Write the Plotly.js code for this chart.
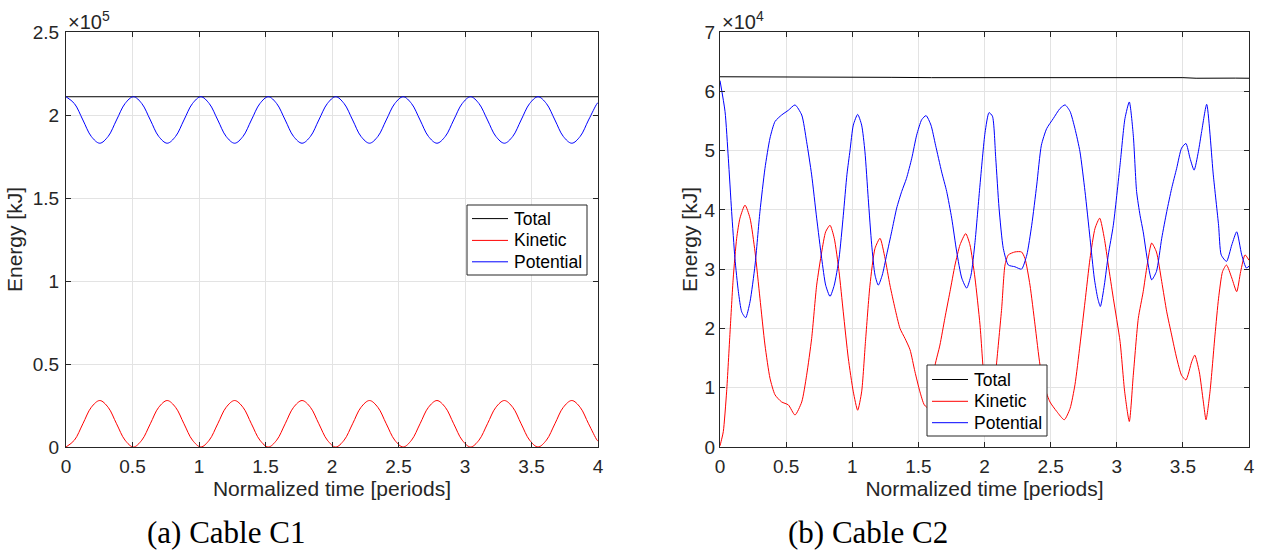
<!DOCTYPE html>
<html>
<head>
<meta charset="utf-8">
<script src="https://cdn.plot.ly/plotly-3.0.1.min.js"></script>
<style>
  html, body { margin: 0; padding: 0; background: #ffffff; }
  #chart { width: 1261px; height: 551px; }
</style>
</head>
<body>
<div id="chart"></div>
<script>
// ---------------- DATA ----------------
// (a) Cable C1 — energies in kJ, time in periods
const c1Time = [0,0.063,0.127,0.190,0.254,0.317,0.380,0.444,
  0.507,0.570,0.634,0.697,0.761,0.824,0.887,0.951,
  1.014,1.077,1.141,1.204,1.268,1.331,1.394,1.458,
  1.521,1.584,1.648,1.711,1.775,1.838,1.901,1.965,
  2.028,2.091,2.155,2.218,2.282,2.345,2.408,2.472,
  2.535,2.598,2.662,2.725,2.789,2.852,2.915,2.979,
  3.042,3.105,3.169,3.232,3.296,3.359,3.422,3.486,
  3.549,3.612,3.676,3.739,3.803,3.866,3.929,3.993,4.0];
const c1Kinetic = [0,4100,14000,23900,28000,23900,14000,4100,
  0,4100,14000,23900,28000,23900,14000,4100,
  0,4100,14000,23900,28000,23900,14000,4100,
  0,4100,14000,23900,28000,23900,14000,4100,
  0,4100,14000,23900,28000,23900,14000,4100,
  0,4100,14000,23900,28000,23900,14000,4100,
  0,4100,14000,23900,28000,23900,14000,4100,
  0,4100,14000,23900,28000,23900,14000,4100,3600];
const c1Potential = [211000,206900,197000,187100,183000,187100,197000,206900,
  211000,206900,197000,187100,183000,187100,197000,206900,
  211000,206900,197000,187100,183000,187100,197000,206900,
  211000,206900,197000,187100,183000,187100,197000,206900,
  211000,206900,197000,187100,183000,187100,197000,206900,
  211000,206900,197000,187100,183000,187100,197000,206900,
  211000,206900,197000,187100,183000,187100,197000,206900,
  211000,206900,197000,187100,183000,187100,197000,206900,207400];
const c1TotalTime = [0, 4];
const c1Total = [211000, 211000];

// (b) Cable C2
const c2PotTime = [0,0.038,0.063,0.088,0.113,0.139,0.164,0.194,0.227,0.265,0.302,0.340,0.378,0.416,0.466,0.517,0.567,0.618,0.655,0.693,0.731,0.769,0.799,0.832,0.864,0.900,0.932,0.960,0.983,
  1.008,1.041,1.071,1.096,1.121,1.147,1.172,1.197,1.227,1.260,1.298,1.336,1.374,1.410,1.450,1.487,1.525,1.558,1.595,1.630,1.676,1.714,1.752,1.790,1.828,1.865,1.898,1.928,1.966,
  2.004,2.034,2.060,2.085,2.110,2.142,2.180,2.230,2.280,2.320,2.357,2.395,2.430,2.470,2.520,2.571,2.609,2.647,2.684,2.722,2.760,2.798,2.830,2.856,2.876,2.906,2.936,2.974,
  3.025,3.062,3.095,3.125,3.150,3.176,3.200,3.230,3.264,3.300,3.340,3.378,3.415,3.453,3.490,3.523,3.554,3.585,3.617,3.642,3.680,3.730,3.770,3.790,3.830,3.870,3.907,3.945,3.980,4.000];
const c2Potential = [61800,56600,48700,39700,31800,26200,22800,21800,24500,30700,39700,47000,52100,54900,56000,56800,57700,56000,51500,45900,38600,31800,27300,25400,27300,31800,39000,46000,50000,
  54300,56100,54300,49800,41900,34100,29000,27300,29000,32400,36300,40300,43100,45300,48700,52600,55200,55900,54300,50900,46400,43100,38600,32900,28500,26800,29000,34500,44200,
  53000,56400,55800,48700,40300,33500,30700,30400,30000,32400,37400,44200,50900,53700,55400,57100,57700,56600,53700,49800,43100,35200,28500,25100,23700,27300,32400,37400,
  47600,55400,58200,52600,43100,39100,36300,31800,28200,29600,35200,39700,43600,47000,50400,51200,48700,46700,49800,53200,57800,45900,37400,32400,31300,34100,36300,32400,30200,30500];
const c2KinTime = [0,0.008,0.025,0.050,0.076,0.100,0.126,0.151,0.189,0.227,0.265,0.302,0.340,0.378,0.416,0.466,0.517,0.567,0.618,0.655,0.693,0.731,0.769,0.799,0.832,0.864,0.900,0.932,0.970,
  1.008,1.041,1.071,1.100,1.134,1.172,1.210,1.248,1.285,1.323,1.361,1.399,1.437,1.474,1.512,1.545,1.580,1.626,1.663,1.700,1.739,1.777,1.815,1.858,1.890,1.928,1.966,
  2.004,2.034,2.060,2.090,2.130,2.155,2.180,2.230,2.280,2.306,2.344,2.382,2.420,2.457,2.495,2.546,2.603,2.647,2.684,2.722,2.760,2.798,2.836,2.871,2.906,2.936,2.974,
  3.025,3.060,3.095,3.125,3.163,3.200,3.230,3.264,3.300,3.340,3.378,3.415,3.453,3.490,3.523,3.567,3.590,3.624,3.655,3.675,3.705,3.743,3.770,3.800,3.830,3.870,3.907,3.937,3.970,4.000];
const c2Kinetic = [200,900,2600,9300,19400,28500,35200,38600,40800,38600,32900,25100,17200,11600,8800,7600,7100,5400,7600,12100,18300,27300,32900,36300,37400,35200,29600,22800,15000,
  9300,6200,9300,17800,27300,33500,35200,31800,27300,23400,20000,18300,16400,12700,9300,7100,6500,13800,17200,21700,26200,30700,34100,36000,34100,28500,20600,
  9400,6000,6600,13800,23400,30700,32400,32900,32900,31800,27300,20600,13800,9900,7600,6000,4600,6500,10500,17200,24500,31800,36900,38600,35200,30700,25100,
  17800,9300,4300,12100,21700,26200,30700,34400,32900,27900,22800,18900,15000,12100,11300,14400,15500,12700,7600,4600,9300,18900,25100,29600,30700,28500,26200,29600,32400,31500];
const c2TotTime = [0,0.4,0.75,1.0,1.3,1.6,2.0,2.3,2.6,2.9,3.1,3.3,3.5,3.6,3.75,3.9,4.0];
const c2Total = [62450,62450,62400,62350,62350,62300,62300,62330,62330,62300,62250,62280,62300,62200,62250,62220,62200];

// Tick labels (values shown in units of the axis exponent)
const xTicks = [0,0.5,1,1.5,2,2.5,3,3.5,4];
const xTickText = ['0','0.5','1','1.5','2','2.5','3','3.5','4'];
const y1Ticks = [0,50000,100000,150000,200000,250000];
const y1TickText = ['0','0.5','1','1.5','2','2.5'];
const y2Ticks = [0,10000,20000,30000,40000,50000,60000,70000];
const y2TickText = ['0','1','2','3','4','5','6','7'];
const seriesNames = ['Total','Kinetic','Potential'];
const captions = ['(a) Cable C1','(b) Cable C2'];
const exponents = ['×10<sup>5</sup>','×10<sup>4</sup>'];

// ---------------- STYLE ----------------
const W = 1261, H = 551;
const fx = v => v / W;
const fy = v => 1 - v / H;
const SANS = 'Liberation Sans, Arial, Helvetica, sans-serif';
const SERIF = 'Liberation Serif, Times New Roman, serif';
const AX = '#262626';
const colors = {Total: '#000000', Kinetic: '#ff0000', Potential: '#0000ff'};

function line(x, y, name, xa, ya, shape, smooth) {
  return {x: x, y: y, name: name, type: 'scatter', mode: 'lines',
    xaxis: xa, yaxis: ya, showlegend: false,
    line: {color: colors[name], width: 1, shape: shape, smoothing: smooth},
    hoverinfo: 'skip'};
}

const traces = [
  line(c1TotalTime, c1Total, seriesNames[0], 'x', 'y', 'linear', 0),
  line(c1Time, c1Kinetic, seriesNames[1], 'x', 'y', 'spline', 1),
  line(c1Time, c1Potential, seriesNames[2], 'x', 'y', 'spline', 1),
  line(c2TotTime, c2Total, seriesNames[0], 'x2', 'y2', 'linear', 0),
  line(c2KinTime, c2Kinetic, seriesNames[1], 'x2', 'y2', 'spline', 0.6),
  line(c2PotTime, c2Potential, seriesNames[2], 'x2', 'y2', 'spline', 0.6)
];

function xAxis(domain, anchor) {
  return {domain: domain, anchor: anchor, range: [0, 4],
    tickvals: xTicks, ticktext: xTickText,
    showline: true, mirror: 'ticks', linecolor: AX, linewidth: 1,
    ticks: 'inside', ticklen: 5, tickcolor: AX, tickwidth: 1,
    showgrid: true, gridcolor: '#e3e3e3', gridwidth: 1, zeroline: false,
    tickfont: {family: SANS, size: 19, color: AX},
    ticklabelstandoff: 2,
    title: {text: 'Normalized time [periods]', font: {family: SANS, size: 21, color: AX}, standoff: 5},
    fixedrange: true};
}
function yAxis(domain, anchor, range, tv, tt, lblOff, ttlOff) {
  return {domain: domain, anchor: anchor, range: range,
    tickvals: tv, ticktext: tt,
    showline: true, mirror: 'ticks', linecolor: AX, linewidth: 1,
    ticks: 'inside', ticklen: 5, tickcolor: AX, tickwidth: 1,
    showgrid: true, gridcolor: '#e3e3e3', gridwidth: 1, zeroline: false,
    tickfont: {family: SANS, size: 19, color: AX},
    ticklabelstandoff: lblOff,
    title: {text: 'Energy [kJ]', font: {family: SANS, size: 21, color: AX}, standoff: ttlOff},
    fixedrange: true};
}

// Legend boxes drawn as shapes + text (positions in px)
const legendBoxes = [
  {x0: 467, y0: 205, x1: 587, y1: 275, lx0: 472, lx1: 508, tx: 512, ys: [218.6, 240.4, 261.8]},
  {x0: 927, y0: 365, x1: 1047, y1: 436, lx0: 932, lx1: 968, tx: 972, ys: [379.5, 401.3, 422.7]}
];
const shapes = [];
const legendTexts = [];
legendBoxes.forEach(b => {
  shapes.push({type: 'rect', xref: 'paper', yref: 'paper', layer: 'above',
    x0: fx(b.x0), x1: fx(b.x1), y0: fy(b.y1), y1: fy(b.y0),
    fillcolor: '#ffffff', line: {color: AX, width: 1}});
  seriesNames.forEach((n, i) => {
    shapes.push({type: 'line', xref: 'paper', yref: 'paper', layer: 'above',
      x0: fx(b.lx0), x1: fx(b.lx1), y0: fy(b.ys[i]), y1: fy(b.ys[i]),
      line: {color: colors[n], width: 1}});
    legendTexts.push({text: n, xref: 'paper', yref: 'paper', x: fx(b.tx), y: fy(b.ys[i]),
      xanchor: 'left', yanchor: 'middle', showarrow: false,
      font: {family: SANS, size: 17.5, color: '#000000'}});
  });
});

const yDom = [fy(447), fy(32)];
const layout = {
  width: W, height: H,
  margin: {l: 0, r: 0, t: 0, b: 0},
  paper_bgcolor: '#ffffff', plot_bgcolor: '#ffffff',
  showlegend: false,
  xaxis: xAxis([fx(66), fx(598)], 'y'),
  yaxis: yAxis(yDom, 'x', [0, 250000], y1Ticks, y1TickText, 2, 4),
  xaxis2: xAxis([fx(720), fx(1249)], 'y2'),
  yaxis2: yAxis(yDom, 'x2', [0, 70000], y2Ticks, y2TickText, 0, 1),
  shapes: shapes,
  annotations: [
    {text: exponents[0], xref: 'paper', yref: 'paper', x: fx(66), y: fy(35), xanchor: 'left', yanchor: 'bottom',
      showarrow: false, font: {family: SANS, size: 20, color: AX}},
    {text: exponents[1], xref: 'paper', yref: 'paper', x: fx(720), y: fy(35), xanchor: 'left', yanchor: 'bottom',
      showarrow: false, font: {family: SANS, size: 20, color: AX}},
    {text: captions[0], xref: 'paper', yref: 'paper', x: fx(226), y: fy(532), xanchor: 'center', yanchor: 'middle',
      showarrow: false, font: {family: SERIF, size: 31, color: '#000000'}},
    {text: captions[1], xref: 'paper', yref: 'paper', x: fx(868), y: fy(532), xanchor: 'center', yanchor: 'middle',
      showarrow: false, font: {family: SERIF, size: 31, color: '#000000'}}
  ].concat(legendTexts)
};

Plotly.newPlot('chart', traces, layout, {staticPlot: true, displayModeBar: false});
</script>
</body>
</html>
